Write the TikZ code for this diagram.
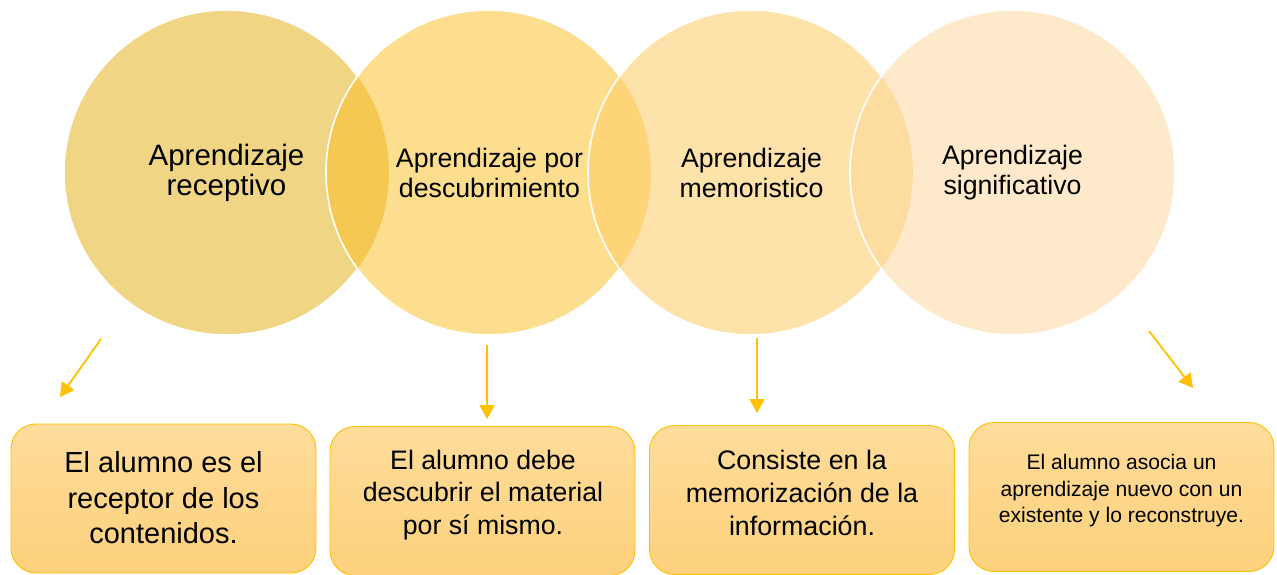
\documentclass[tikz,border=0pt]{standalone}
\usepackage{fontspec}
\setmainfont{Liberation Sans}
\usetikzlibrary{arrows.meta}
\definecolor{cone}{HTML}{F0D684}
\definecolor{ctwo}{HTML}{FDDE8F}
\definecolor{cthree}{HTML}{FDE2AA}
\definecolor{cfour}{HTML}{FEEACA}
\definecolor{ovonetwo}{HTML}{F5C852}
\definecolor{ovtwothree}{HTML}{FDD478}
\definecolor{ovthreefour}{HTML}{FDDCA0}
\definecolor{gold}{HTML}{FFC000}
\definecolor{boxtop}{HTML}{FEDC9B}
\definecolor{boxbot}{HTML}{FDD17C}
\tikzset{
  ring/.style={draw=white, line width=1.6pt},
  circtext/.style={align=center, inner sep=0pt, text=black},
  infobox/.style={draw=gold, line width=0.9pt, rounded corners=25pt, top color=boxtop, bottom color=boxbot, minimum width=305pt, minimum height=149pt, inner sep=0pt},
  boxtext/.style={align=center, inner sep=0pt, text=black},
  goldarrow/.style={draw=gold, line width=1.8pt, -{Triangle[length=14pt,width=15pt]}}
}
\begin{document}
\begin{tikzpicture}[x=1pt,y=-1pt]
\useasboundingbox (0,0) rectangle (1277,575);
% circles
\fill[cone] (226.5,172.5) circle[radius=162.5];
\draw[ring] (226.5,172.5) circle[radius=162.5];
\fill[ctwo] (488.5,172.5) circle[radius=162.5];
\begin{scope}
  \clip (226.5,172.5) circle[radius=162.5];
  \fill[ovonetwo] (488.5,172.5) circle[radius=162.5];
\end{scope}
\draw[ring] (488.5,172.5) circle[radius=162.5];
\fill[cthree] (750.5,172.5) circle[radius=162.5];
\begin{scope}
  \clip (488.5,172.5) circle[radius=162.5];
  \fill[ovtwothree] (750.5,172.5) circle[radius=162.5];
\end{scope}
\draw[ring] (750.5,172.5) circle[radius=162.5];
\fill[cfour] (1012.5,172.5) circle[radius=162.5];
\begin{scope}
  \clip (750.5,172.5) circle[radius=162.5];
  \fill[ovthreefour] (1012.5,172.5) circle[radius=162.5];
\end{scope}
\draw[ring] (1012.5,172.5) circle[radius=162.5];
% circle texts
\node[circtext, font=\fontsize{29.5}{30}\selectfont] (ct1) at (226.5,173) {Aprendizaje\\receptivo};
\node[circtext, font=\fontsize{26.7}{30}\selectfont] (ct2) at (489.5,173) {Aprendizaje por\\descubrimiento};
\node[circtext, font=\fontsize{26.7}{30}\selectfont] (ct3) at (751.5,173) {Aprendizaje\\memoristico};
\node[circtext, font=\fontsize{26.7}{30}\selectfont] (ct4) at (1012.5,173) {Aprendizaje\\significativo};
% boxes
\node[infobox] (b1) at (163.5,498.5) {};
\node[infobox] (b2) at (482.5,501) {};
\node[infobox] (b3) at (802,500) {};
\node[infobox] (b4) at (1121.5,497) {};
\node[boxtext, font=\fontsize{29}{35.5}\selectfont] (t1) at (163.5,498) {El alumno es el\\receptor de los\\contenidos.};
\node[boxtext, font=\fontsize{26.7}{32.5}\selectfont] (t2) at (483,495) {El alumno debe\\descubrir el material\\por sí mismo.};
\node[boxtext, font=\fontsize{26.8}{33}\selectfont] (t3) at (802,493) {Consiste en la\\memorización de la\\información.};
\node[boxtext, font=\fontsize{21.1}{26.5}\selectfont] (t4) at (1121.5,491) {El alumno asocia un\\aprendizaje nuevo con un\\existente y lo reconstruye.};
% arrows
\coordinate (a1s) at (101,339);
\coordinate (a1e) at (60,397);
\coordinate (a2s) at (487,345);
\coordinate (a2e) at (487,419);
\coordinate (a3s) at (757,338);
\coordinate (a3e) at (757,413);
\coordinate (a4s) at (1149,331);
\coordinate (a4e) at (1193,388);
\draw[goldarrow] (a1s) -- (a1e);
\draw[goldarrow] (a2s) -- (a2e);
\draw[goldarrow] (a3s) -- (a3e);
\draw[goldarrow] (a4s) -- (a4e);
\end{tikzpicture}
\end{document}
